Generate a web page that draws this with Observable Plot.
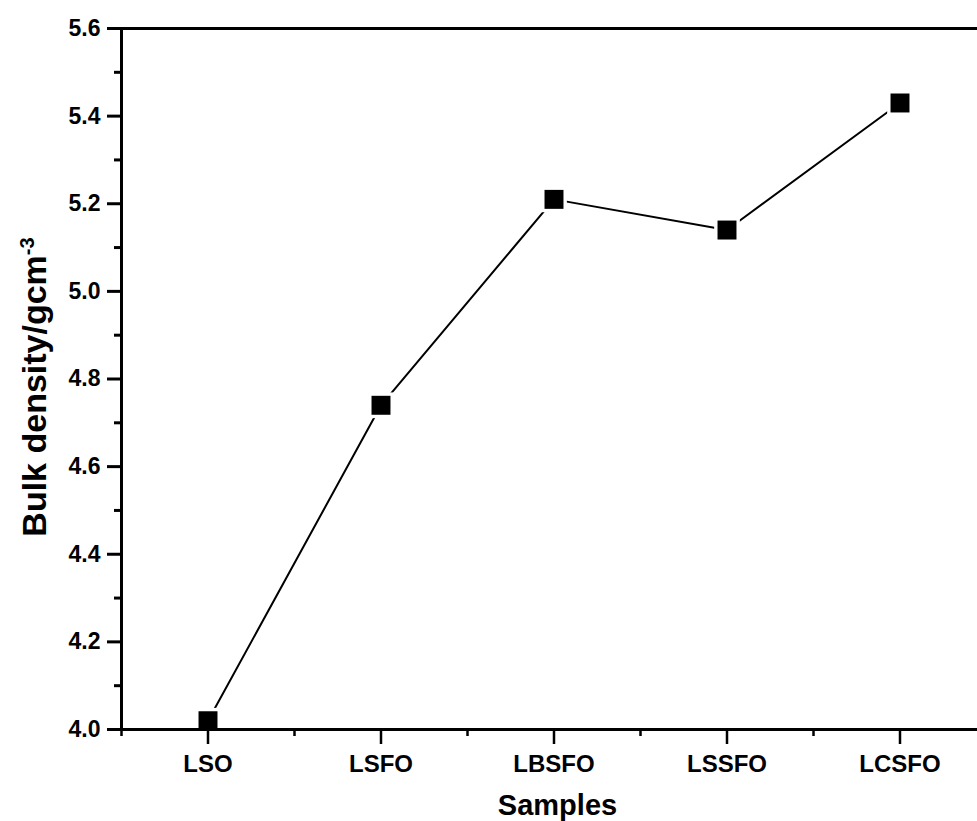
<!DOCTYPE html>
<html>
<head>
<meta charset="utf-8">
<script src="https://cdn.jsdelivr.net/npm/d3@7"></script>
<script src="https://cdn.jsdelivr.net/npm/@observablehq/plot@0.6"></script>
<style>
  html, body { margin: 0; padding: 0; background: #fff; overflow: hidden; }
  svg { overflow: hidden; }
</style>
</head>
<body>
<div id="chart"></div>
<script>
const categories = ["LSO", "LSFO", "LBSFO", "LSSFO", "LCSFO"];
const density = [4.02, 4.74, 5.21, 5.14, 5.43];
const yTicks = [4.0, 4.2, 4.4, 4.6, 4.8, 5.0, 5.2, 5.4, 5.6];
const yMinorTicks = [4.1, 4.3, 4.5, 4.7, 4.9, 5.1, 5.3, 5.5];
const xTicks = [0, 1, 2, 3, 4];
const xMinorTicks = [-0.5, 0.5, 1.5, 2.5, 3.5, 4.5];
const yTitle = "Bulk density/gcm";
const yTitleSup = "-3";
const xTitle = "Samples";

const data = categories.map((c, i) => ({i, c, v: density[i]}));
const font = "'Liberation Sans', Arial, sans-serif";

const chart = Plot.plot({
  width: 977,
  height: 821,
  marginLeft: 121,
  marginRight: 0,
  marginTop: 28,
  marginBottom: 92,
  style: {fontFamily: font, fontWeight: "bold", color: "#000", background: "#fff"},
  x: {type: "linear", domain: [-0.5, 4.5], range: [121, 986]},
  y: {domain: [4.0, 5.6]},
  marks: [
    Plot.line(data, {x: "i", y: "v", stroke: "#000", strokeWidth: 2}),
    Plot.dot(data, {x: "i", y: "v", symbol: "square", r: 14.5, fill: "#fff", stroke: "none"}),
    Plot.axisY({ticks: yTicks, tickSize: 14, tickPadding: 7, strokeWidth: 3,
      tickFormat: d => d.toFixed(1), fontSize: 23, fontWeight: "bold", label: null}),
    Plot.axisY({ticks: yMinorTicks, tickSize: 7, strokeWidth: 3, text: null, label: null}),
    Plot.axisX({ticks: xTicks, tickSize: 15, tickPadding: 10, strokeWidth: 2.5,
      tickFormat: i => categories[i], fontSize: 24, fontWeight: "bold", label: null}),
    Plot.axisX({ticks: xMinorTicks, tickSize: 7, strokeWidth: 2.5, text: null, label: null}),
    Plot.ruleX([-0.5], {stroke: "#000", strokeWidth: 3}),
    Plot.ruleY([4.0, 5.6], {stroke: "#000", strokeWidth: 3}),
    Plot.dot(data, {x: "i", y: "v", symbol: "square", r: 10.7, fill: "#000", stroke: "none"}),
    Plot.text([yTitle], {frameAnchor: "left", textAnchor: "middle", rotate: -90, dx: -86, dy: 8,
      fontSize: 34, fontWeight: "bold", fill: "#000", text: d => d}),
    Plot.text([xTitle], {frameAnchor: "bottom", lineAnchor: "top", dx: 8, dy: 65,
      fontSize: 29, fontWeight: "bold", fill: "#000", text: d => d})
  ]
});

document.getElementById("chart").appendChild(chart);

d3.select(chart).selectAll("text")
  .filter(function() { return this.textContent === yTitle; })
  .each(function() {
    const t = d3.select(this);
    t.text(null);
    t.append("tspan").text(yTitle);
    t.append("tspan").attr("font-size", 20).attr("dy", "-0.62em").text(yTitleSup);
  });
</script>
</body>
</html>
